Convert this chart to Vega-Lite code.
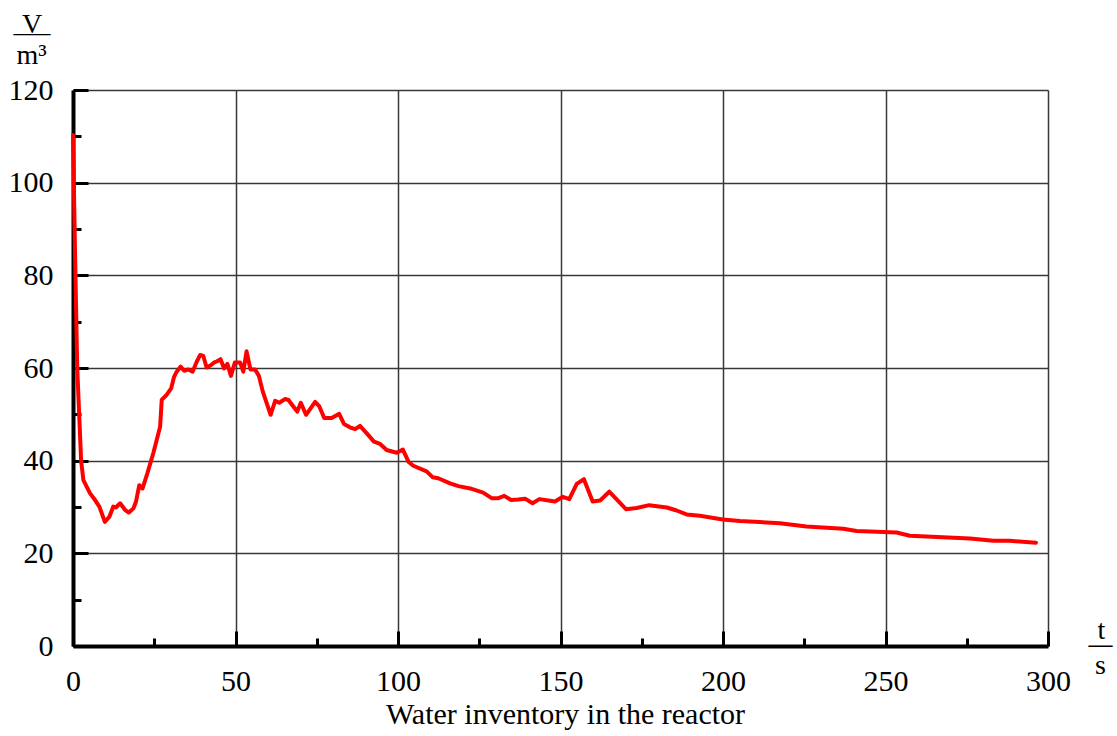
{
  "$schema": "https://vega.github.io/schema/vega-lite/v6.json",
  "width": 975,
  "height": 556,
  "autosize": {"type": "none"},
  "padding": {"left": 73, "top": 90, "right": 69, "bottom": 90},
  "background": "white",
  "config": {
    "view": {"stroke": null},
    "font": "Liberation Serif",
    "axis": {
      "labelFont": "Liberation Serif",
      "labelFontSize": 30,
      "labelColor": "black",
      "labelFlush": false,
      "labelOverlap": false,
      "titleFont": "Liberation Serif",
      "titleFontSize": 28,
      "titleFontWeight": "normal",
      "titleColor": "black",
      "titleAngle": 0,
      "titleAlign": "center",
      "titleBaseline": "alphabetic",
      "gridColor": "#383838",
      "gridWidth": 1.5,
      "gridOpacity": 1,
      "domainColor": "black",
      "tickColor": "black"
    }
  },
  "data": {
    "values": [
      {"t": 0, "v": 110.3}, {"t": 0.6, "v": 86}, {"t": 1.3, "v": 60}, {"t": 2.5, "v": 40},
      {"t": 3.2, "v": 35.8}, {"t": 5.2, "v": 33}, {"t": 6.8, "v": 31.5}, {"t": 8.1, "v": 30.1},
      {"t": 9.8, "v": 26.8}, {"t": 11.2, "v": 27.9}, {"t": 12.4, "v": 30.1}, {"t": 13.2, "v": 29.9},
      {"t": 14.5, "v": 30.8}, {"t": 16, "v": 29.4}, {"t": 17.2, "v": 28.8}, {"t": 18.6, "v": 29.7},
      {"t": 19.4, "v": 31.2}, {"t": 20.4, "v": 34.7}, {"t": 21.4, "v": 34}, {"t": 22.9, "v": 37.3},
      {"t": 24.7, "v": 41.6}, {"t": 26.8, "v": 47.3}, {"t": 27.3, "v": 53.1}, {"t": 28.8, "v": 54.2},
      {"t": 30.2, "v": 55.6}, {"t": 31.1, "v": 58.1}, {"t": 31.9, "v": 59.2}, {"t": 33.1, "v": 60.3},
      {"t": 34.2, "v": 59.4}, {"t": 35.5, "v": 59.7}, {"t": 36.8, "v": 59.2}, {"t": 38.1, "v": 61.4},
      {"t": 39.1, "v": 62.8}, {"t": 40.1, "v": 62.6}, {"t": 41.1, "v": 60.1}, {"t": 42.4, "v": 60.6},
      {"t": 43.5, "v": 61.2}, {"t": 44.2, "v": 61.4}, {"t": 45.4, "v": 61.9}, {"t": 46.5, "v": 59.9},
      {"t": 47.5, "v": 60.9}, {"t": 48.6, "v": 58.3}, {"t": 49.8, "v": 61.2}, {"t": 51.4, "v": 61.2},
      {"t": 52.4, "v": 59.2}, {"t": 53.4, "v": 63.6}, {"t": 54.6, "v": 59.7}, {"t": 56, "v": 59.7},
      {"t": 57.2, "v": 58.3}, {"t": 58.4, "v": 54.9}, {"t": 59.6, "v": 52.4}, {"t": 60.8, "v": 49.9},
      {"t": 62.2, "v": 52.9}, {"t": 63.5, "v": 52.5}, {"t": 65.2, "v": 53.3}, {"t": 66.3, "v": 53.1},
      {"t": 67.8, "v": 51.7}, {"t": 69, "v": 50.6}, {"t": 70.1, "v": 52.5}, {"t": 71.7, "v": 49.9},
      {"t": 73.1, "v": 51.3}, {"t": 74.5, "v": 52.7}, {"t": 75.8, "v": 51.7}, {"t": 77.3, "v": 49.2},
      {"t": 79.6, "v": 49.2}, {"t": 81.9, "v": 50.1}, {"t": 83.4, "v": 47.9}, {"t": 85.2, "v": 47.2},
      {"t": 86.8, "v": 46.8}, {"t": 88.3, "v": 47.5}, {"t": 90.4, "v": 45.9}, {"t": 92.6, "v": 44.1},
      {"t": 94.5, "v": 43.6}, {"t": 96.5, "v": 42.3}, {"t": 99.6, "v": 41.7}, {"t": 101.5, "v": 42.4},
      {"t": 103.3, "v": 39.7}, {"t": 104.7, "v": 38.9}, {"t": 108.8, "v": 37.7}, {"t": 110.7, "v": 36.4},
      {"t": 112.4, "v": 36.2}, {"t": 116, "v": 35.1}, {"t": 118.6, "v": 34.5}, {"t": 122.2, "v": 34},
      {"t": 126.2, "v": 33.1}, {"t": 128.8, "v": 31.9}, {"t": 130.9, "v": 31.9}, {"t": 132.7, "v": 32.4},
      {"t": 134.8, "v": 31.5}, {"t": 137, "v": 31.6}, {"t": 139.1, "v": 31.8}, {"t": 141.4, "v": 30.8},
      {"t": 143.5, "v": 31.7}, {"t": 146.3, "v": 31.4}, {"t": 148.3, "v": 31.2}, {"t": 150.7, "v": 32.2},
      {"t": 152.7, "v": 31.7}, {"t": 155, "v": 35}, {"t": 157.2, "v": 36}, {"t": 159.9, "v": 31.2},
      {"t": 162.2, "v": 31.4}, {"t": 165, "v": 33.3}, {"t": 167.5, "v": 31.5}, {"t": 170.2, "v": 29.5},
      {"t": 173.4, "v": 29.8}, {"t": 177.3, "v": 30.4}, {"t": 182.7, "v": 29.9}, {"t": 185.5, "v": 29.3},
      {"t": 188.8, "v": 28.4}, {"t": 192.9, "v": 28.1}, {"t": 199.9, "v": 27.3}, {"t": 205.2, "v": 27},
      {"t": 217.5, "v": 26.5}, {"t": 225.7, "v": 25.8}, {"t": 237, "v": 25.3}, {"t": 241.1, "v": 24.8},
      {"t": 253.4, "v": 24.5}, {"t": 257.5, "v": 23.8}, {"t": 276, "v": 23.2}, {"t": 283.2, "v": 22.7},
      {"t": 288.3, "v": 22.7}, {"t": 296.3, "v": 22.3}
    ]
  },
  "layer": [
    {
      "mark": {"type": "line", "strokeOpacity": 0},
      "encoding": {
        "x": {"field": "t", "type": "quantitative",
          "scale": {"domain": [0, 300], "nice": false, "zero": false},
          "axis": {"orient": "bottom", "grid": true, "values": [0, 50, 100, 150, 200, 250, 300],
            "ticks": false, "labels": false, "domain": false, "title": null}},
        "y": {"field": "v", "type": "quantitative",
          "scale": {"domain": [0, 120], "nice": false, "zero": false},
          "axis": {"orient": "left", "grid": true, "values": [0, 20, 40, 60, 80, 100, 120],
            "ticks": false, "labels": false, "domain": false, "title": null}}
      }
    },
    {
      "mark": {"type": "line", "strokeOpacity": 0},
      "encoding": {
        "x": {"field": "t", "type": "quantitative",
          "axis": {"orient": "bottom", "grid": false, "values": [0, 50, 100, 150, 200, 250, 300],
            "ticks": true, "tickSize": -15, "tickWidth": 3, "labels": false,
            "domain": true, "domainWidth": 4,
            "title": "Water inventory in the reactor", "titleFontSize": 30,
            "titleX": 492, "titleY": 77}},
        "y": {"field": "v", "type": "quantitative",
          "axis": {"orient": "left", "grid": false, "values": [0, 20, 40, 60, 80, 100, 120],
            "ticks": true, "tickSize": -15, "tickWidth": 3, "labels": false,
            "domain": true, "domainWidth": 4,
            "title": "V", "titleX": -41.5, "titleY": -58}}
      }
    },
    {
      "mark": {"type": "line", "strokeOpacity": 0},
      "encoding": {
        "x": {"field": "t", "type": "quantitative",
          "axis": {"orient": "bottom", "grid": false, "values": [25, 75, 125, 175, 225, 275],
            "ticks": true, "tickSize": -8, "tickWidth": 3, "labels": false, "domain": false,
            "title": "t", "titleX": 1028, "titleY": -8}},
        "y": {"field": "v", "type": "quantitative",
          "axis": {"orient": "left", "grid": false, "values": [10, 30, 50, 70, 90, 110],
            "ticks": true, "tickSize": -8, "tickWidth": 3, "labels": false, "domain": false,
            "title": "m³", "titleX": -42, "titleY": -27}}
      }
    },
    {
      "mark": {"type": "line", "strokeOpacity": 0},
      "encoding": {
        "x": {"field": "t", "type": "quantitative",
          "axis": {"orient": "bottom", "grid": false, "values": [0, 50, 100, 150, 200, 250, 300],
            "ticks": false, "labels": true, "labelBaseline": "alphabetic", "labelPadding": 44.5,
            "domain": false,
            "title": "s", "titleX": 1027, "titleY": 27}},
        "y": {"field": "v", "type": "quantitative",
          "axis": {"orient": "left", "grid": false, "values": [0, 20, 40, 60, 80, 100, 120],
            "ticks": false, "labels": true, "labelPadding": 20, "domain": false,
            "title": "——", "titleFontSize": 18.5, "titleFontWeight": "bold",
            "titleX": -41.5, "titleY": -52}}
      }
    },
    {
      "mark": {"type": "line", "color": "#ff0000", "strokeWidth": 4, "strokeJoin": "round", "strokeCap": "round"},
      "encoding": {
        "x": {"field": "t", "type": "quantitative",
          "axis": {"orient": "bottom", "grid": false, "ticks": false, "labels": false, "domain": false,
            "title": "—", "titleFontSize": 24, "titleFontWeight": "bold",
            "titleX": 1027, "titleY": 5}},
        "y": {"field": "v", "type": "quantitative", "axis": null}
      }
    }
  ],
  "resolve": {"axis": {"x": "independent", "y": "independent"}}
}
